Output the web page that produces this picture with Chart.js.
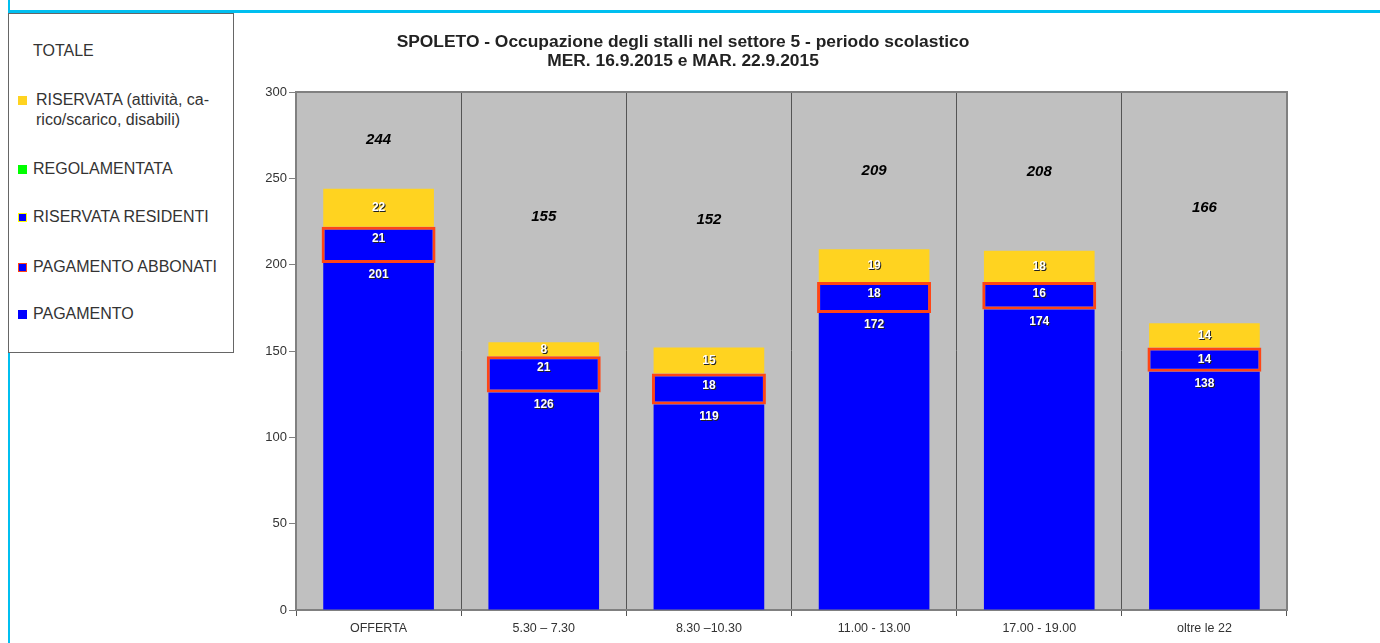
<!DOCTYPE html>
<html>
<head>
<meta charset="utf-8">
<script src="https://cdn.jsdelivr.net/npm/chart.js@4/dist/chart.umd.min.js"></script>
<style>
  body { margin: 0; background: #fff; font-family: "Liberation Sans", Arial, sans-serif; }
  #wrap { position: relative; width: 1380px; height: 643px; overflow: hidden; }
  #chart { position: absolute; left: 0; top: 0; }
  .cyanTop { position: absolute; left: 8px; top: 10px; width: 1372px; height: 3px; background: #00BFF0; }
  .cyanLeft { position: absolute; left: 8px; top: 0; width: 2px; height: 643px; background: #00BFF0; }
  #legend { position: absolute; left: 8px; top: 13px; width: 224px; height: 338px; border: 1px solid #666; background: #fff; color: #333; font-size: 16px; }
  .item { position: absolute; white-space: nowrap; line-height: 20px; }
  .sw { position: absolute; width: 7px; height: 7px; border: 1px solid; }
  #title { position: absolute; left: 283px; width: 800px; top: 32px; text-align: center; font-weight: bold; font-size: 17.4px; line-height: 19px; color: #222; }
</style>
</head>
<body>
<div id="wrap">
  <div class="cyanTop"></div>
  <div class="cyanLeft"></div>
  <canvas id="chart" width="1380" height="643"></canvas>
  <div id="title">SPOLETO - Occupazione degli stalli nel settore 5 - periodo scolastico<br>MER. 16.9.2015 e MAR. 22.9.2015</div>
  <div id="legend"></div>
</div>
<script>
const categories = ['OFFERTA', '5.30 \u2013 7.30', '8.30 \u201310.30', '11.00 - 13.00', '17.00 - 19.00', 'oltre le 22'];
const pagamento = [201, 126, 119, 172, 174, 138];
const abbonati = [21, 21, 18, 18, 16, 14];
const residenti = [0, 0, 0, 0, 0, 0];
const regolamentata = [0, 0, 0, 0, 0, 0];
const riservata = [22, 8, 15, 19, 18, 14];
const totale = [244, 155, 152, 209, 208, 166];
const yMax = 300;
const yStep = 50;

const BLUE = '#0000FF';
const YELLOW = '#FFD320';
const RED = '#FF4515';
const FONT = '"Liberation Sans", Arial, sans-serif';

const datasets = [
  { label: 'PAGAMENTO', data: pagamento, backgroundColor: BLUE, borderWidth: 0, labelPos: 'top' },
  { label: 'PAGAMENTO ABBONATI', data: abbonati, backgroundColor: BLUE, borderColor: RED, borderWidth: 3, borderSkipped: false, barPercentage: 0.69, labelPos: 'top' },
  { label: 'RISERVATA RESIDENTI', data: residenti, backgroundColor: BLUE, borderColor: '#FFFF00', borderWidth: 0, labelPos: 'center' },
  { label: 'REGOLAMENTATA', data: regolamentata, backgroundColor: '#00FF00', borderWidth: 0, labelPos: 'center' },
  { label: 'RISERVATA (attivit\u00e0, ca-\nrico/scarico, disabili)', data: riservata, backgroundColor: YELLOW, borderWidth: 0, labelPos: 'center' }
];

const plotBg = {
  id: 'plotBg',
  beforeDraw(chart) {
    const a = chart.chartArea, ctx = chart.ctx;
    ctx.save();
    ctx.fillStyle = '#C0C0C0';
    ctx.fillRect(a.left, a.top, a.right - a.left, a.bottom - a.top);
    ctx.restore();
  },
  afterDraw(chart) {
    const a = chart.chartArea, ctx = chart.ctx;
    ctx.save();
    ctx.strokeStyle = '#808080';
    ctx.lineWidth = 2;
    ctx.beginPath();
    ctx.moveTo(a.left, a.top);
    ctx.lineTo(a.right, a.top);
    ctx.lineTo(a.right, a.bottom);
    ctx.stroke();
    ctx.restore();
  }
};

const barLabels = {
  id: 'barLabels',
  afterDatasetsDraw(chart) {
    const ctx = chart.ctx;
    ctx.save();
    ctx.font = 'bold 12px ' + FONT;
    ctx.textAlign = 'center';
    ctx.textBaseline = 'middle';
    chart.data.datasets.forEach((ds, i) => {
      const meta = chart.getDatasetMeta(i);
      meta.data.forEach((el, j) => {
        const v = ds.data[j];
        if (!v) return;
        const y = ds.labelPos === 'top' ? el.y + 12 : (el.y + el.base) / 2;
        ctx.fillStyle = '#222';
        ctx.fillText(String(v), el.x + 1, y + 1);
        ctx.fillStyle = '#fff';
        ctx.fillText(String(v), el.x, y);
      });
    });
    // totals, halfway between the stack top and the axis max
    const ys = chart.scales.y;
    ctx.font = 'italic bold 15px ' + FONT;
    ctx.fillStyle = '#000';
    const meta0 = chart.getDatasetMeta(0);
    totale.forEach((t, j) => {
      const x = meta0.data[j].x;
      ctx.fillText(String(t), x, ys.getPixelForValue((t + yMax) / 2));
    });
    ctx.restore();
  }
};

new Chart(document.getElementById('chart'), {
  type: 'bar',
  data: { labels: categories, datasets: datasets },
  options: {
    responsive: false,
    animation: false,
    devicePixelRatio: 1,
    layout: { padding: { left: 240, right: 93, top: 92, bottom: 0 } },
    plugins: { legend: { display: false }, tooltip: { enabled: false } },
    datasets: { bar: { barPercentage: 0.67, categoryPercentage: 1 } },
    scales: {
      x: {
        stacked: true,
        grid: { color: '#555', lineWidth: 1, tickLength: 6, offset: true },
        border: { color: '#808080', width: 2 },
        ticks: { color: '#333', font: { family: FONT, size: 12.5 }, padding: 5, maxRotation: 0 },
        afterFit(s) { s.height = 33; }
      },
      y: {
        stacked: true,
        min: 0, max: yMax,
        grid: { drawOnChartArea: false, color: '#808080', tickLength: 7 },
        border: { color: '#808080', width: 2 },
        ticks: { stepSize: yStep, color: '#333', font: { family: FONT, size: 13 }, padding: 2 },
        afterFit(s) { s.width = 56; }
      }
    }
  },
  plugins: [plotBg, barLabels]
});

// legend box built from the datasets
const legend = document.getElementById('legend');
function addItem(text, top, left, sw) {
  const d = document.createElement('div');
  d.className = 'item';
  d.style.left = left + 'px';
  d.style.top = top + 'px';
  d.innerHTML = text.split('\n').join('<br>');
  legend.appendChild(d);
  if (sw) {
    const s = document.createElement('div');
    s.className = 'sw';
    s.style.left = '9px';
    s.style.top = (top + 6) + 'px';
    s.style.background = sw.bg;
    s.style.borderColor = sw.border;
    legend.appendChild(s);
  }
}
addItem('TOTALE', 27, 24, null);
const legendTops = [290, 243, 193, 145, 76];
for (let i = datasets.length - 1; i >= 0; i--) {
  const ds = datasets[i];
  addItem(ds.label, legendTops[i], i === 4 ? 27 : 24, { bg: ds.backgroundColor, border: ds.borderColor || ds.backgroundColor });
}
</script>
</body>
</html>
